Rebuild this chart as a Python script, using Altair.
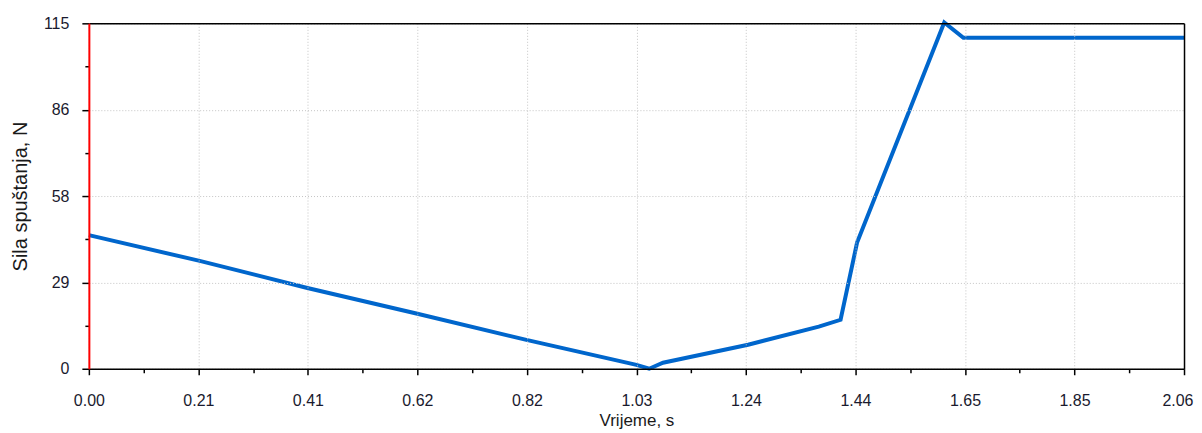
import altair as alt
import pandas as pd

time_s = [0.0, 0.2085, 0.411, 0.618, 0.823, 1.03, 1.054, 1.08, 1.24, 1.373, 1.414, 1.445, 1.609, 1.645, 2.06]
force_n = [44.5, 35.9, 26.9, 18.3, 9.6, 1.3, 0.0, 2.0, 8.0, 14.0, 16.3, 42.0, 115.3, 110.2, 110.2]

x_ticks = [round(i * 0.103, 4) for i in range(21)]
y_ticks = [i * 14.375 for i in range(9)]

df = pd.DataFrame({"t": time_s, "f": force_n})

x_major_test = "abs(datum.value / 0.206 - round(datum.value / 0.206)) < 0.01"
y_major_test = "abs(datum.value / 28.75 - round(datum.value / 28.75)) < 0.01"
last_test = "datum.value > 2.05"

FONT = "Liberation Sans"
x_scale = alt.Scale(domain=[0, 2.06], nice=False, zero=False)
y_scale = alt.Scale(domain=[0, 115], nice=False)

line = alt.Chart(df).mark_line(color="#0066CC", strokeWidth=4, clip=False).encode(
    x=alt.X("t:Q", scale=x_scale,
            axis=alt.Axis(values=x_ticks, title="Vrijeme, s",
                          labelExpr=f"({x_major_test}) ? format(datum.value, '.2f') : ''",
                          tickSize={"condition": {"test": x_major_test, "value": 6}, "value": 4},
                          gridOpacity={"condition": {"test": x_major_test, "value": 1}, "value": 0},
                          labelAlign={"condition": {"test": last_test, "value": "right"}, "value": "center"},
                          labelOffset={"condition": {"test": last_test, "value": 9}, "value": 0},
                          gridColor="#c4c4c4", gridDash=[1, 2], gridWidth=1,
                          domainColor="#000000", domainWidth=1.5, tickColor="#000000", tickWidth=1.5,
                          labelFont=FONT, labelFontSize=16, labelColor="#1a1a2e",
                          labelPadding=18, titleFont=FONT, titleFontSize=17,
                          titleFontWeight="normal", titleColor="#1a1a1a", titlePadding=4,
                          labelFlush=False, zindex=1)),
    y=alt.Y("f:Q", scale=y_scale,
            axis=alt.Axis(values=y_ticks, title="Sila spuštanja, N",
                          labelExpr=f"({y_major_test}) ? format(datum.value, '.0f') : ''",
                          tickSize={"condition": {"test": y_major_test, "value": 7}, "value": 4},
                          gridOpacity={"condition": {"test": y_major_test, "value": 1}, "value": 0},
                          gridColor="#c4c4c4", gridDash=[1, 2], gridWidth=1,
                          domainColor="#ff0000", domainWidth=2, tickColor="#000000", tickWidth=1.5,
                          labelFont=FONT, labelFontSize=16, labelColor="#1a1a2e",
                          labelPadding=13, titleFont=FONT, titleFontSize=20,
                          titleFontWeight="normal", titleColor="#1a1a1a", titlePadding=13,
                          labelFlush=False, zindex=1)),
)

frame = alt.Chart(df).mark_line(opacity=0).encode(
    x=alt.X("t:Q", scale=x_scale,
            axis=alt.Axis(orient="top", labels=False, ticks=False, grid=False, title=None,
                          domainColor="#000000", domainWidth=1.5, zindex=1)),
    y=alt.Y("f:Q", scale=y_scale,
            axis=alt.Axis(orient="right", labels=False, ticks=False, grid=False, title=None,
                          domainColor="#000000", domainWidth=1.5, zindex=1)),
)

chart = alt.layer(line, frame).resolve_axis(x="independent", y="independent").properties(
    width=1097, height=346,
    autosize=alt.AutoSizeParams(type="none"),
    padding={"left": 81, "top": 15, "right": 10, "bottom": 62},
).configure_view(stroke=None)

chart.save("out.html", embed_options={"renderer": "svg", "actions": False})
